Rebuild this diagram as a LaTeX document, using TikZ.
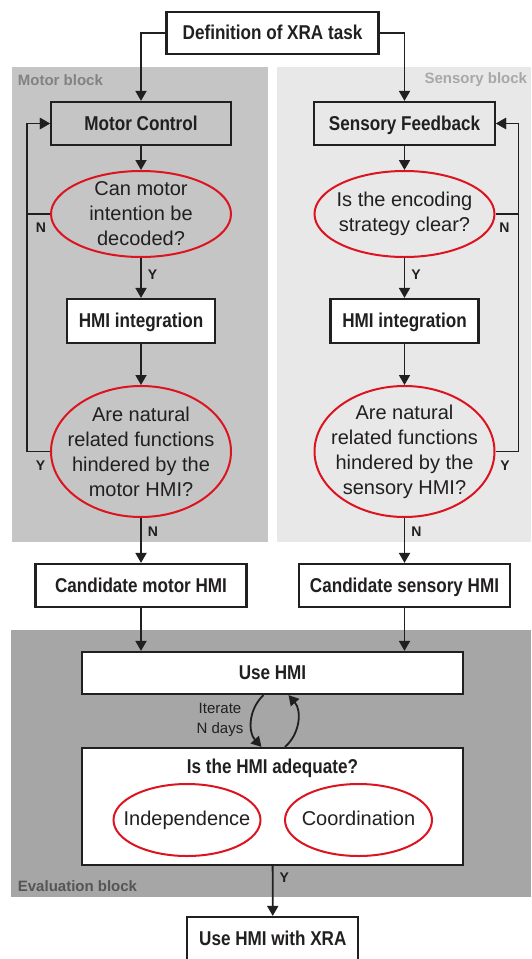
\documentclass[tikz,border=0pt]{standalone}
\usepackage{fontspec}
\setmainfont{Liberation Sans}
\newfontfamily\narrowsf[FakeStretch=0.855]{Liberation Sans}
\usepackage{tikz}
\usetikzlibrary{shapes.geometric}
\usetikzlibrary{arrows.meta}
\definecolor{flowred}{RGB}{220,20,32}
\definecolor{inkgray}{RGB}{34,31,32}
\definecolor{motorbg}{RGB}{197,197,197}
\definecolor{sensorybg}{RGB}{232,232,232}
\definecolor{evalbg}{RGB}{166,166,166}
\definecolor{motorlbl}{RGB}{130,130,130}
\definecolor{sensorylbl}{RGB}{168,168,168}
\definecolor{evallbl}{RGB}{85,85,85}
\tikzset{every edge/.style={draw, line width=1.8pt}}
\tikzset{
  box/.style={draw=inkgray, line width=2.2pt, text=inkgray, inner sep=0pt,
    text height=17pt, text depth=4pt,
    font=\narrowsf\bfseries\fontsize{20}{24}\selectfont},
  question/.style={ellipse, draw=flowred, line width=2pt, text=inkgray, align=center,
    inner sep=-40pt, font=\fontsize{20}{25}\selectfont},
  yn/.style={text=inkgray, inner sep=2pt, font=\bfseries\fontsize{14}{16}\selectfont},
  blocklabel/.style={inner sep=0pt, font=\bfseries\fontsize{15}{18}\selectfont},
}

\begin{document}
\begin{tikzpicture}[x=1pt, y=-1pt, color=inkgray, line width=1.8pt,
    >={Triangle[length=10pt,width=11pt]}]       % XRA flow chart
    \path[use as bounding box] (0,0) rectangle (531,959);

    \fill[motorbg] (12,67) rectangle (268,542);
    \fill[sensorybg] (277,67) rectangle (531,542);
    \fill[evalbg] (11,630) rectangle (531,897);
    \node[blocklabel, text=motorlbl, anchor=west] at (17,80) (lmot) {Motor block};
    \node[blocklabel, text=sensorylbl, anchor=east] at (528,80) (lsen) {Sensory block};
    \node[blocklabel, text=evallbl, anchor=west] at (17,886) (leval) {Evaluation block};

    \node[box, fill=white, minimum width=212, minimum height=42] at (272.5,33) (def) {Definition of XRA task};
    \node[box, minimum width=180, minimum height=43] at (141,123.5) (mc) {Motor Control};
    \node[box, minimum width=181, minimum height=43] at (404.5,123.5) (sf) {Sensory Feedback};
    \node[question, minimum width=180, minimum height=86] at (141,214) (qmot1) {Can motor\\intention be\\decoded?};
    \node[question, minimum width=180, minimum height=86] at (404.5,214) (qsen1) {Is the encoding\\strategy clear?};
    \node[box, fill=white, minimum width=148, minimum height=44] at (141,321) (hmot) {HMI integration};
    \node[box, fill=white, minimum width=148, minimum height=44] at (404.5,321) (hsen) {HMI integration};
    \node[question, minimum width=180, minimum height=131] at (141,451.5) (qmot2) {Are natural\\related functions\\hindered by the\\motor HMI?};
    \node[question, minimum width=180, minimum height=131] at (404.5,451.5) (qsen2) {Are natural\\related functions\\hindered by the\\sensory HMI?};
    \node[box, fill=white, minimum width=211, minimum height=43] at (141,585.5) (cmot) {Candidate motor HMI};
    \node[box, fill=white, minimum width=211, minimum height=43] at (404.5,585.5) (csen) {Candidate sensory HMI};

    \node[box, fill=white, minimum width=381, minimum height=42] at (272.5,673) (use) {Use HMI};
    \node[box, fill=white, minimum width=381, minimum height=117] at (272.5,806.5) (adq) {};
    \node[box, draw=none] at (272.5,767) (adqtitle) {Is the HMI adequate?};
    \node[question, minimum width=147, minimum height=72, text height=14pt, text depth=4pt] at (187,820) (indep) {Independence};
    \node[question, minimum width=147, minimum height=72, text height=14pt, text depth=4pt] at (358.5,820) (coord) {Coordination};
    \node[align=center, inner sep=0pt, font=\fontsize{15}{19.5}\selectfont] at (220,720) (iter) {Iterate\\N days};
    \node[box, fill=white, minimum width=171, minimum height=43] at (272.8,938.5) (xra) {Use HMI with XRA};

    \draw[->] (def.west) -| (mc.north);
    \draw[->] (def.east) -| (sf.north);

    \draw (mc) edge[->] (qmot1);
    \draw (qmot1) edge[->] node[yn, right=4pt, pos=0.43] {Y} (hmot);
    \draw (hmot) edge[->] (qmot2);
    \draw (qmot2) edge[->] node[yn, right=4pt, pos=0.31] {N} (cmot);
    \draw[->] (qmot1.west) -- ++(-23,0) node[yn, below right=6pt] {N} |- (mc.west);
    \draw[->] (qmot2.west) -- ++(-23,0) node[yn, below right=6pt] {Y} |- (mc.west);

    \draw (sf) edge[->] (qsen1);
    \draw (qsen1) edge[->] node[yn, right=4pt, pos=0.43] {Y} (hsen);
    \draw (hsen) edge[->] (qsen2);
    \draw (qsen2) edge[->] node[yn, right=4pt, pos=0.31] {N} (csen);
    \draw[->] (qsen1.east) -- ++(23,0) node[yn, below left=6pt] {N} |- (sf.east);
    \draw[->] (qsen2.east) -- ++(23,0) node[yn, below left=6pt] {Y} |- (sf.east);

    \draw[->] (cmot.south) -- (cmot.south |- use.north);
    \draw[->] (csen.south) -- (csen.south |- use.north);

    \draw[->] ([xshift=-9pt]use.south) to[bend right=45] ([xshift=-11pt]adq.north);
    \draw[->] ([xshift=12.5pt]adq.north) to[bend right=45] ([xshift=16pt]use.south);

    \draw (adq) edge[->] node[yn, right=4pt, pos=0.23] {Y} (xra);
\end{tikzpicture}
\end{document}
